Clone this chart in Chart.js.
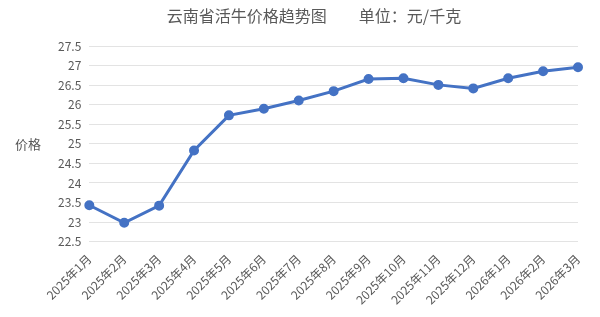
<!DOCTYPE html>
<html>
<head>
<meta charset="utf-8">
<script src="https://cdn.jsdelivr.net/npm/chart.js@4"></script>
<style>
  html, body { margin: 0; padding: 0; background: #fff; }
  #wrap { width: 600px; height: 317px; }
</style>
</head>
<body>
<div id="wrap"><canvas id="priceChart"></canvas></div>
<script>
// 云南省活牛价格 (元/千克)
const months = ['2025年1月', '2025年2月', '2025年3月', '2025年4月', '2025年5月', '2025年6月', '2025年7月', '2025年8月',
  '2025年9月', '2025年10月', '2025年11月', '2025年12月', '2026年1月', '2026年2月', '2026年3月'];
const prices = [23.43, 22.98, 23.42, 24.83, 25.73, 25.90, 26.11, 26.35, 26.66, 26.68, 26.51, 26.42, 26.68, 26.86, 26.96];
const yTicks = [22.5, 23, 23.5, 24, 24.5, 25, 25.5, 26, 26.5, 27, 27.5];

const fontFamily = "'Microsoft YaHei', 'Noto Sans CJK SC', sans-serif";
const textColor = '#595959';

// horizontal y-axis label at the left
const yLabelPlugin = {
  id: 'yLabel',
  afterDraw(chart) {
    const ctx = chart.ctx;
    const area = chart.chartArea;
    ctx.save();
    ctx.font = '13px ' + fontFamily;
    ctx.fillStyle = textColor;
    ctx.textAlign = 'left';
    ctx.textBaseline = 'middle';
    ctx.fillText('价格', 15, (area.top + area.bottom) / 2);
    ctx.restore();
  }
};

new Chart(document.getElementById('priceChart'), {
  type: 'line',
  data: {
    labels: months,
    datasets: [{
      label: '价格',
      data: prices,
      borderColor: '#4472c4',
      backgroundColor: '#4472c4',
      borderWidth: 3,
      pointRadius: 3.5,
      pointHoverRadius: 3.5,
      tension: 0
    }]
  },
  options: {
    responsive: true,
    maintainAspectRatio: false,
    animation: false,
    layout: {
      padding: { left: 50, right: 22, top: 0, bottom: 8 }
    },
    plugins: {
      legend: { display: false },
      tooltip: { enabled: false },
      title: {
        display: true,
        text: '云南省活牛价格趋势图　　单位：元/千克',
        color: textColor,
        font: { family: fontFamily, size: 16, weight: 'normal' },
        padding: { top: 6, bottom: 21 }
      }
    },
    scales: {
      x: {
        offset: false,
        grid: { display: false },
        border: { display: false },
        ticks: {
          color: textColor,
          font: { family: fontFamily, size: 12 },
          minRotation: 45,
          maxRotation: 45,
          autoSkip: false,
          padding: 2
        }
      },
      y: {
        min: 22.5,
        max: 27.5,
        afterBuildTicks(axis) {
          axis.ticks = yTicks.map(v => ({ value: v }));
        },
        grid: { color: '#e3e3e3', lineWidth: 1, drawTicks: false },
        border: { display: false },
        ticks: {
          color: textColor,
          font: { family: fontFamily, size: 12 },
          padding: 8,
          callback: v => String(v)
        }
      }
    }
  },
  plugins: [yLabelPlugin]
});
</script>
</body>
</html>
